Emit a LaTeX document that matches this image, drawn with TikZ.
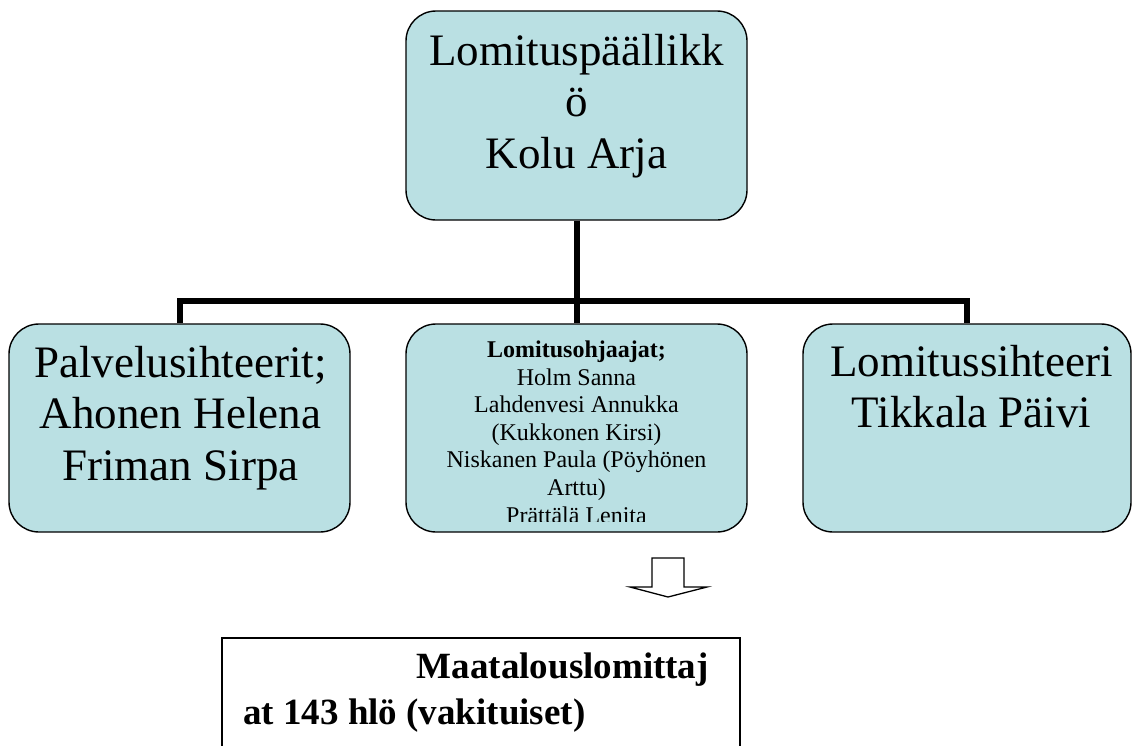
\documentclass[tikz,border=0pt]{standalone}
\usepackage{fontspec}
\setmainfont{Liberation Serif}
\definecolor{boxfill}{RGB}{186,224,227}
\begin{document}
\begin{tikzpicture}[x=1pt,y=-1pt,
  orgbox/.style={draw=black, line width=1.4pt, fill=boxfill, rounded corners=30pt, inner sep=0pt},
  conn/.style={line width=6pt, line join=miter},
  txt/.style={inner sep=0pt, anchor=base},
  big/.style={font=\fontsize{45}{51.6}\selectfont},
  small/.style={font=\fontsize{24}{27.6}\selectfont},
  bot/.style={font=\bfseries\fontsize{37}{45}\selectfont}]
\useasboundingbox (0,0) rectangle (1132,745);
\clip (0,0) rectangle (1132,745);

% boxes
\node[orgbox, minimum width=341pt, minimum height=209pt] (top) at (576.5,115.5) {};
\node[orgbox, minimum width=341pt, minimum height=208pt] (left) at (179.5,428) {};
\node[orgbox, minimum width=341pt, minimum height=208pt] (mid) at (576.5,428) {};
\node[orgbox, minimum width=328pt, minimum height=208pt] (right) at (967,428) {};

% connectors
\draw[conn] (top.south) -- (mid.north);
\draw[conn] (left.north) -- ++(0,-22) -| (right.north);

% texts
\node[txt, big] (toptxt) at (576.5,65)
  {\begin{tabular}[t]{@{}c@{}}Lomituspäällikk\\ö\\Kolu Arja\end{tabular}};
\node[txt, big] (lefttxt) at (180.5,377)
  {\begin{tabular}[t]{@{}c@{}}Palvelusihteerit;\\Ahonen Helena\\Friman Sirpa\end{tabular}};
\node[txt, big] (righttxt) at (971.5,376)
  {\begin{tabular}[t]{@{}c@{}}Lomitussihteeri\\Tikkala Päivi\end{tabular}};
\begin{scope}
  \clip (406,324) rectangle (747,521.5);
  \node[txt, small] (midtxt) at (576.5,357.5)
    {\begin{tabular}[t]{@{}c@{}}\textbf{Lomitusohjaajat;}\\Holm Sanna\\Lahdenvesi Annukka\\(Kukkonen Kirsi)\\Niskanen Paula (Pöyhönen\\Arttu)\\Prättälä Lenita\end{tabular}};
\end{scope}

% hollow arrow
\draw[line width=1.3pt, line join=miter] (652,558) -- (684,558) -- (684,587) -- (707,587)
  -- (668,597) -- (630,587) -- (652,587) -- cycle;

% bottom box
\node[draw=black, line width=1.8pt, fill=white, inner sep=0pt, anchor=north west,
  minimum width=518pt, minimum height=160pt] (bottom) at (221,637) {};
\node[txt, bot, anchor=base east] (bot1) at (709,678) {Maatalouslomittaj};
\node[txt, bot, anchor=base west] (bot2) at (243,724) {at 143 hlö (vakituiset)};
\end{tikzpicture}
\end{document}
